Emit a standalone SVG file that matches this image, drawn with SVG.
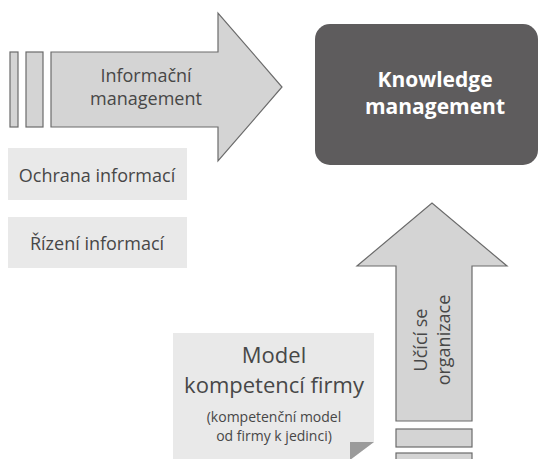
<svg xmlns="http://www.w3.org/2000/svg" width="539" height="459" viewBox="0 0 539 459">
<style>
.arrow{fill:#d4d4d4;stroke:#6b6b6b;stroke-width:1.2}
.light{fill:#e9e9e9}
.t{font-family:"Open Sans","Noto Sans","Liberation Sans",sans-serif;fill:#474747;text-anchor:middle}
.w{font-family:"Open Sans","Noto Sans","Liberation Sans",sans-serif;fill:#ffffff;text-anchor:middle;font-weight:bold;font-size:21px}
</style>
<rect width="539" height="459" fill="#ffffff"/>
<g id="informacni-management">
<rect class="arrow" x="10" y="52" width="8" height="75"/>
<rect class="arrow" x="26" y="52" width="17" height="75"/>
<polygon class="arrow" points="51,52 218,52 218,13 282,87 218,161 218,127 51,127"/>
<text class="t" font-size="18" x="146" y="82">Informační</text>
<text class="t" font-size="18" x="146" y="105">management</text>
</g>
<g id="knowledge-management">
<rect x="315" y="24" width="223" height="141" rx="15" fill="#5e5c5d"/>
<text class="w" x="435" y="87">Knowledge</text>
<text class="w" x="435" y="114">management</text>
</g>
<g id="ochrana-informaci">
<rect class="light" x="8" y="148" width="179" height="52"/>
<text class="t" font-size="18" x="97" y="182">Ochrana informací</text>
</g>
<g id="rizeni-informaci">
<rect class="light" x="8" y="217" width="179" height="51"/>
<text class="t" font-size="18" x="97" y="250">Řízení informací</text>
</g>
<g id="ucici-se-organizace">
<polygon class="arrow" points="396,421 396,266 357,266 432,203 507,266 472,266 472,421"/>
<rect class="arrow" x="396" y="429" width="76" height="18"/>
<rect class="arrow" x="396" y="453" width="76" height="12"/>
<text class="t" font-size="18" transform="translate(427,340) rotate(-90)">Učící se</text>
<text class="t" font-size="18" transform="translate(450,340) rotate(-90)">organizace</text>
</g>
<g id="model-kompetenci">
<polygon class="light" points="173,333 374,333 374,442 350,460 173,460"/>
<polygon points="350,442 374,442 350,460" fill="#9b9b9b"/>
<text class="t" font-size="22" x="274" y="363">Model</text>
<text class="t" font-size="22" x="274" y="393">kompetencí firmy</text>
<text class="t" font-size="14" x="274" y="422">(kompetenční model</text>
<text class="t" font-size="14" x="274" y="441">od firmy k jedinci)</text>
</g>
<g id="connectors"></g>
</svg>
